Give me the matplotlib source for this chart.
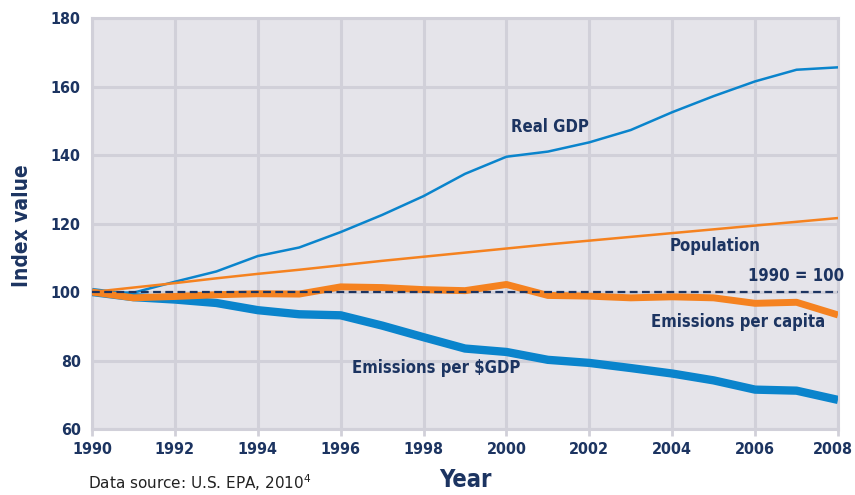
import matplotlib.pyplot as plt
from matplotlib import font_manager
from matplotlib.transforms import ScaledTranslation

years = list(range(1990, 2009))
real_gdp = [100, 99.8, 103, 106, 110.5, 113, 117.5, 122.5, 128, 134.5, 139.5,
            141, 143.7, 147.3, 152.5, 157.2, 161.5, 164.9, 165.6]
population = [100, 101.3, 102.6, 104, 105.3, 106.5, 107.8, 109.1, 110.3, 111.5,
              112.7, 113.9, 115, 116.1, 117.2, 118.3, 119.4, 120.5, 121.6]
per_capita = [100, 98.3, 98.7, 99.2, 99.5, 99.4, 101.5, 101.3, 100.7, 100.4,
              102.2, 99, 98.8, 98.3, 98.6, 98.3, 96.7, 97, 93.3]
per_gdp = [100, 98.5, 97.8, 96.8, 94.7, 93.5, 93.2, 90.2, 86.8, 83.5, 82.5,
           80.2, 79.3, 77.8, 76.2, 74.2, 71.5, 71.2, 68.5]

blue = '#0a84cc'
orange = '#f58220'
navy = '#1c3461'
grid_c = '#d1d0d9'

# look for a condensed bold face, fall back to DejaVu
cond = None
for f in font_manager.fontManager.ttflist:
    if 'Condensed' in f.fname and 'Bold' in f.fname and 'Oblique' not in f.fname:
        cond = f.fname
        break
if cond:
    fp = font_manager.FontProperties(fname=cond)
else:
    fp = font_manager.FontProperties(family='DejaVu Sans', weight='bold', stretch='condensed')

fig = plt.figure(figsize=(8.55, 4.95), dpi=100)
ax = fig.add_axes([0.1076, 0.1333, 0.8725, 0.8303])
ax.set_facecolor('#e5e4ea')

ax.plot(years, per_gdp, color=blue, lw=6, solid_capstyle='butt', zorder=3)
ax.plot(years, per_capita, color=orange, lw=5, solid_capstyle='butt', zorder=4)
ax.axhline(100, color=navy, lw=1.6, ls=(0, (3.5, 2)), zorder=5)
ax.plot(years, real_gdp, color=blue, lw=1.8, zorder=3)
ax.plot(years, population, color=orange, lw=1.8, zorder=3)

ax.set_xlim(1990, 2008)
ax.set_ylim(60, 180)
ax.set_xticks(range(1990, 2009, 2))
ax.set_yticks(range(60, 181, 20))
ax.grid(True, color=grid_c, lw=2.2)
ax.set_axisbelow(True)
for s in ax.spines.values():
    s.set_color(grid_c)
    s.set_linewidth(2.2)
ax.tick_params(axis='x', colors=grid_c, length=5, width=2, pad=4)
ax.tick_params(axis='y', length=0, pad=8)
for lab in ax.get_xticklabels() + ax.get_yticklabels():
    lab.set_color(navy)
    lab.set_fontproperties(fp)
    lab.set_fontsize(11.5)

# keep the last year label inside the figure
last = ax.get_xticklabels()[-1]
last.set_transform(last.get_transform() + ScaledTranslation(-5 / 100, 0, fig.dpi_scale_trans))


def label(x, y, s, size=12, **extra):
    t = ax.text(x, y, s, color=navy, ha='center', va='center', **extra)
    t.set_fontproperties(fp)
    t.set_fontsize(size)
    return t


label(2001.05, 148.2, 'Real GDP')
label(2005.03, 113.4, 'Population')
label(2007.0, 104.7, '1990 = 100')
label(2005.6, 91.2, 'Emissions per capita')
label(1998.3, 77.8, 'Emissions per \\$GDP')

t = fig.text(0.026, 0.545, 'Index value', rotation=90, color=navy, ha='center', va='center')
t.set_fontproperties(fp)
t.set_fontsize(15)
t = fig.text(0.544, 0.03, 'Year', color=navy, ha='center', va='center')
t.set_fontproperties(fp)
t.set_fontsize(17)
fig.text(0.103, 0.024, 'Data source: U.S. EPA, 2010$^4$', color='#222222',
         fontsize=11, ha='left', va='center')

fig.savefig('out.png', dpi=100)
